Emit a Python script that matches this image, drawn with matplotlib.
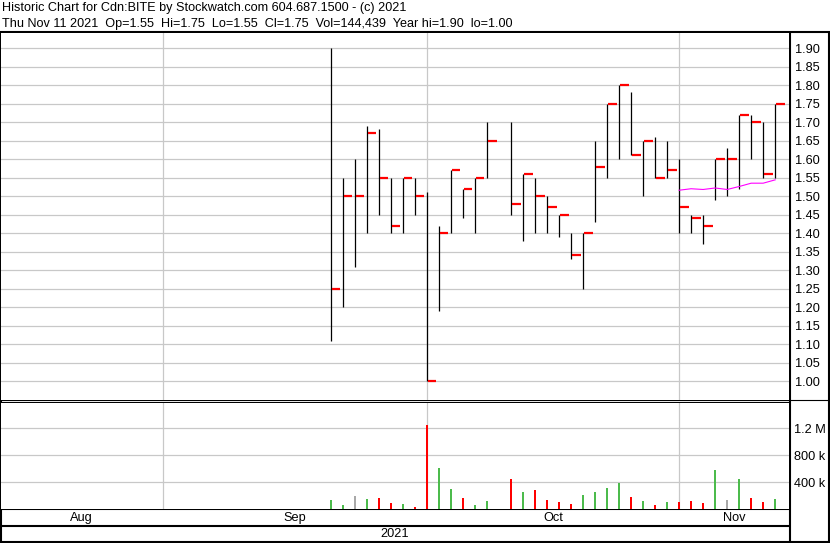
import matplotlib
matplotlib.use("Agg")
import matplotlib.pyplot as plt
import numpy as np

plt.rcParams['font.family'] = ['Liberation Sans', 'DejaVu Sans']

W, H = 830, 543

# --- data ---
dates = ['2021-09-21', '2021-09-22', '2021-09-23', '2021-09-24', '2021-09-27',
         '2021-09-28', '2021-09-29', '2021-09-30',
         '2021-10-01', '2021-10-04', '2021-10-05', '2021-10-06', '2021-10-07',
         '2021-10-08', '2021-10-12', '2021-10-13', '2021-10-14', '2021-10-15',
         '2021-10-18', '2021-10-19', '2021-10-20', '2021-10-21', '2021-10-22',
         '2021-10-25', '2021-10-26', '2021-10-27', '2021-10-28', '2021-10-29',
         '2021-11-01', '2021-11-02', '2021-11-03', '2021-11-04', '2021-11-05',
         '2021-11-08', '2021-11-09', '2021-11-10', '2021-11-11']
highs = [1.90, 1.55, 1.60, 1.69, 1.68, 1.55, 1.55, 1.55,
         1.51, 1.42, 1.57, 1.52, 1.55, 1.70, 1.70, 1.56, 1.55, 1.50,
         1.45, 1.40, 1.40, 1.65, 1.75, 1.80, 1.78, 1.65, 1.66, 1.65,
         1.60, 1.45, 1.45, 1.60, 1.63, 1.72, 1.72, 1.70, 1.75]
lows = [1.11, 1.20, 1.31, 1.40, 1.45, 1.40, 1.40, 1.45,
        1.00, 1.19, 1.40, 1.44, 1.40, 1.55, 1.45, 1.38, 1.40, 1.40,
        1.39, 1.33, 1.25, 1.43, 1.55, 1.60, 1.61, 1.50, 1.55, 1.55,
        1.40, 1.40, 1.37, 1.49, 1.50, 1.52, 1.60, 1.55, 1.55]
closes = [1.25, 1.50, 1.50, 1.67, 1.55, 1.42, 1.55, 1.50,
          1.00, 1.40, 1.57, 1.52, 1.55, 1.65, 1.48, 1.56, 1.50, 1.47,
          1.45, 1.34, 1.40, 1.58, 1.75, 1.80, 1.61, 1.65, 1.55, 1.57,
          1.47, 1.44, 1.42, 1.60, 1.60, 1.72, 1.70, 1.56, 1.75]
volumes = [129000, 55000, 188000, 144000, 159000, 84000, 69000, 25000,
           1244000, 605000, 292000, 159000, 55000, 114000, 441000, 248000,
           278000, 129000, 99000, 69000, 203000, 248000, 307000, 382000,
           173000, 114000, 55000, 99000,
           99000, 114000, 84000, 575000, 129000, 441000, 159000, 99000, 144439]
ma_dates = ['2021-11-01', '2021-11-02', '2021-11-03', '2021-11-04', '2021-11-05',
            '2021-11-08', '2021-11-09', '2021-11-10', '2021-11-11']
ma_values = [1.516, 1.520, 1.518, 1.522, 1.518, 1.526, 1.535, 1.535, 1.544]

month_names = ['Aug', 'Sep', 'Oct', 'Nov']
month_starts = ['2021-08-02', '2021-09-01', '2021-10-01', '2021-11-01', '2021-12-01']
price_ticks = [1.00, 1.05, 1.10, 1.15, 1.20, 1.25, 1.30, 1.35, 1.40, 1.45,
               1.50, 1.55, 1.60, 1.65, 1.70, 1.75, 1.80, 1.85, 1.90]
vol_ticks = [400000, 800000, 1200000]
vol_labels = ['400 k', '800 k', '1.2 M']

header1 = "Historic Chart for Cdn:BITE by Stockwatch.com 604.687.1500 - (c) 2021"
header2 = ("Thu Nov 11 2021  Op=1.55  Hi=1.75  Lo=1.55  Cl=1.75  "
           "Vol=144,439  Year hi=1.90  lo=1.00")

# weekday index relative to Oct 1
ORIGIN = '2021-10-01'
x = np.busday_count(ORIGIN, dates)
x_ma = np.busday_count(ORIGIN, ma_dates)
x_month = np.busday_count(ORIGIN, month_starts)
XLIM = (-35.45, 30.15)

GRID = '#c8c8c8'
GREEN = '#4cbb4c'
FS = 9.2

fig = plt.figure(figsize=(W / 100, H / 100), dpi=100)


def px_axes(left, top, right, bottom):
    return fig.add_axes([left / W, 1 - bottom / H, (right - left) / W, (bottom - top) / H])


# price panel
ax = px_axes(1, 33, 789, 400)
ax.set_xlim(*XLIM)
ax.set_ylim(0.9496, 1.9405)
for p in price_ticks:
    ax.axhline(p, color=GRID, lw=0.9, zorder=0)
for m in x_month[1:4]:
    ax.axvline(m, color=GRID, lw=0.9, zorder=0)
ax.vlines(x, lows, highs, color='black', lw=0.9, zorder=2)
ax.hlines(closes, x + 0.1, x + 0.8, color='red', lw=1.6, zorder=3)
ax.plot(x_ma, ma_values, color='#ff00ff', lw=0.8, zorder=2)
ax.yaxis.tick_right()
ax.set_yticks(price_ticks)
ax.set_yticklabels([f"{p:.2f}" for p in price_ticks])
ax.tick_params(axis='y', length=0, pad=4.5, labelsize=FS)
ax.set_xticks([])
for s in ax.spines.values():
    s.set_visible(False)
ax.text(8, 41, "Cdn:BITE", transform=None, fontsize=FS)

# volume panel
av = px_axes(1, 402.5, 789, 509)
av.set_xlim(*XLIM)
av.set_ylim(0, 1584000)
for v in vol_ticks:
    av.axhline(v, color=GRID, lw=0.9, zorder=0)
for m in x_month[1:4]:
    av.axvline(m, color=GRID, lw=0.9, zorder=0)
chg = np.sign(np.diff(closes))
vcolors = [GREEN] + [GREEN if c > 0 else ('red' if c < 0 else '#a8a8a8') for c in chg]
av.bar(x, volumes, width=0.18, color=vcolors, zorder=2)
av.yaxis.tick_right()
av.set_yticks(vol_ticks)
av.set_yticklabels(vol_labels)
av.tick_params(axis='y', length=0, pad=3.5, labelsize=FS)
av.set_xticks([])
for s in av.spines.values():
    s.set_visible(False)

# frame, separators and text in pixel coordinates
ov = fig.add_axes([0, 0, 1, 1], zorder=-1)
ov.set_xlim(0, W)
ov.set_ylim(H, 0)
ov.axis('off')
ov.patch.set_alpha(0)


def hline(y, x0, x1, lw=1.5):
    ov.plot([x0, x1], [y, y], color='black', lw=lw, solid_capstyle='butt')


def vline(xp, y0, y1, lw=1.5):
    ov.plot([xp, xp], [y0, y1], color='black', lw=lw, solid_capstyle='butt')


hline(31.5, 0, W)
hline(400.3, 0, W, lw=0.8)
hline(402.5, 0, 789)
hline(509, 0, 789)
hline(526.3, 0, 789)
hline(541.5, 0, W)
vline(0.8, 31, 542)
vline(789.5, 31, 542)
vline(828.8, 31, 542)

ov.text(2, 8, header1, fontsize=9.05, va='center')
ov.text(2, 24, header2, fontsize=9.05, va='center')
ov.text(8, 413, "Volume", fontsize=FS, va='center')

# month labels centred on the visible part of each month
scale = 788 / (XLIM[1] - XLIM[0])
for i, name in enumerate(month_names):
    a = max(x_month[i], XLIM[0])
    b = min(x_month[i + 1], XLIM[1])
    xc = 1 + ((a + b) / 2 - XLIM[0]) * scale
    ov.text(xc, 518, name, fontsize=FS, ha='center', va='center')
ov.text((1 + 789) / 2, 534, "2021", fontsize=FS, ha='center', va='center')

fig.savefig('out.png', dpi=100)
